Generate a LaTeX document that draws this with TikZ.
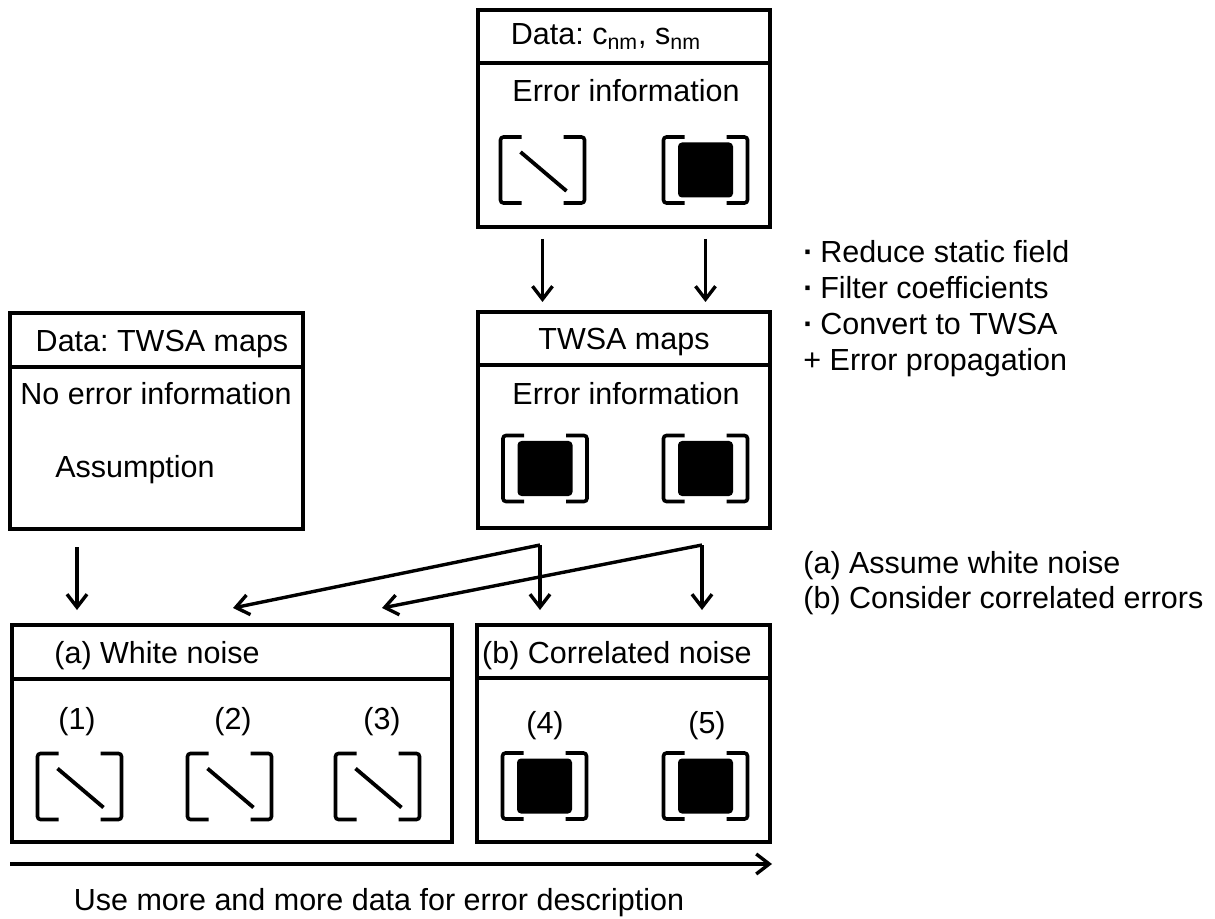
\documentclass[tikz,border=0pt]{standalone}
\usepackage{fontspec}
\setmainfont{Liberation Sans}
\usetikzlibrary{arrows.meta,fit}
\newcommand{\diafont}{\fontsize{15.25pt}{17.5pt}\selectfont\frenchspacing}
\begin{document}
\begin{tikzpicture}[x=0.5pt,y=-0.5pt,
every node/.style={font=\diafont,inner sep=0pt},
box/.style={
% The frame:
rectangle,
draw=black,
line width=2pt,
inner sep=0pt
},
sep/.style={line width=2pt},
arr/.style={line width=1.7pt,-{Straight Barb[length=6.5pt,width=10pt]}},
brackets/.style={line width=1.8pt,rounded corners=1.5pt},
diagmat/.pic={
\coordinate (-c) at (0,0);
\draw[brackets] (-21,-33) -- (-42,-33) -- (-42,33) -- (-21,33)
(21,-33) -- (42,-33) -- (42,33) -- (21,33);
\draw[line width=1.9pt] (-22,-18) -- (24,21);
},
fullmat/.pic={
\coordinate (-c) at (0,0);
\draw[brackets] (-21,-33) -- (-42,-33) -- (-42,33) -- (-21,33)
(21,-33) -- (42,-33) -- (42,33) -- (21,33);
\fill[rounded corners=2pt] (-27.5,-27.5) rectangle (27.5,27.5);
}
]
\useasboundingbox (0,0) rectangle (1215,919);
% Boxes:
\node (topbox) [box,fit={(478,10) (770,227)}] {};
\node (midbox) [box,fit={(478,312) (770,528)}] {};
\node (leftbox) [box,fit={(10,313) (303,529)}] {};
\node (whitebox) [box,fit={(12,625) (452,842)}] {};
\node (corrbox) [box,fit={(477,625) (770,842)}] {};
\draw[sep] (topbox.west |- 0,63) -- (topbox.east |- 0,63);
\draw[sep] (midbox.west |- 0,365) -- (midbox.east |- 0,365);
\draw[sep] (leftbox.west |- 0,367) -- (leftbox.east |- 0,367);
\draw[sep] (whitebox.west |- 0,679) -- (whitebox.east |- 0,679);
\draw[sep] (corrbox.west |- 0,678) -- (corrbox.east |- 0,678);
% Top box:
\node (tophead) [anchor=base] at (606,45) {Data: c\textsubscript{nm}, s\textsubscript{nm}};
\node (toperr) [anchor=base] at (626,102) {Error information};
\pic (tm1) at (542.5,170) {diagmat};
\pic (tm2) at (705.5,170) {fullmat};
% Middle box:
\node (midhead) [anchor=base] at (624,350) {TWSA maps};
\node (miderr) [anchor=base] at (626,405) {Error information};
\pic (mm1) at (545,468.5) {fullmat};
\pic (mm2) at (705.5,468.5) {fullmat};
% Left box:
\node (lefthead) [anchor=base] at (162,352) {Data: TWSA maps};
\node (noerr) [anchor=base] at (156,405) {No error information};
\node (assume) [anchor=base] at (135,477) {Assumption};
% Bottom boxes:
\node (whitehead) [anchor=base] at (157,663) {(a) White noise};
\node (n1) [anchor=base] at (77,729) {(1)};
\node (n2) [anchor=base] at (233,729) {(2)};
\node (n3) [anchor=base] at (382,729) {(3)};
\pic at (79.5,786.5) {diagmat};
\pic at (229.5,786.5) {diagmat};
\pic at (377.5,786.5) {diagmat};
\node (corrhead) [anchor=base] at (617,663) {(b) Correlated noise};
\node (n4) [anchor=base] at (545,733) {(4)};
\node (n5) [anchor=base] at (707,733) {(5)};
\pic at (544.5,786) {fullmat};
\pic at (705.5,786) {fullmat};
% Notes:
\node (step1) [anchor=base west] at (803,263) {\textbf{·}\hspace{0.22em}Reduce static field};
\node (step2) [anchor=base west] at (803,299) {\textbf{·}\hspace{0.22em}Filter coefficients};
\node (step3) [anchor=base west] at (803,335) {\textbf{·}\hspace{0.22em}Convert to TWSA};
\node (step4) [anchor=base west] at (803,371) {+ Error propagation};
\node (alt1) [anchor=base west] at (803,573) {(a) Assume white noise};
\node (alt2) [anchor=base west] at (803,608) {(b) Consider correlated errors};
% Arrows:
\draw[arr,shorten <=5pt,shorten >=4pt] (topbox.south -| tm1-c) -- (midbox.north -| tm1-c);
\draw[arr,shorten <=5pt,shorten >=4pt] (topbox.south -| tm2-c) -- (midbox.north -| tm2-c);
\draw[arr,shorten <=8pt,shorten >=6.5pt] (leftbox.south -| n1) -- (whitebox.north -| n1);
\coordinate (s1) at (540,545);
\coordinate (s2) at (702,545);
\draw[arr,shorten >=6.5pt] (s1) -- (s1 |- corrbox.north);
\draw[arr,shorten >=6.5pt] (s2) -- (s2 |- corrbox.north);
\draw[arr] (s1) -- ([yshift=7.5pt]whitebox.north -| n2);
\draw[arr] (s2) -- ([yshift=7.5pt]whitebox.north -| n3);
\coordinate (flowstart) at (10,864);
\coordinate (flowend) at (772,864);
\draw[arr] (flowstart) -- (flowend);
\node (flowtext) [anchor=base] at (379,910) {Use more and more data for error description};
\end{tikzpicture}
\end{document}
